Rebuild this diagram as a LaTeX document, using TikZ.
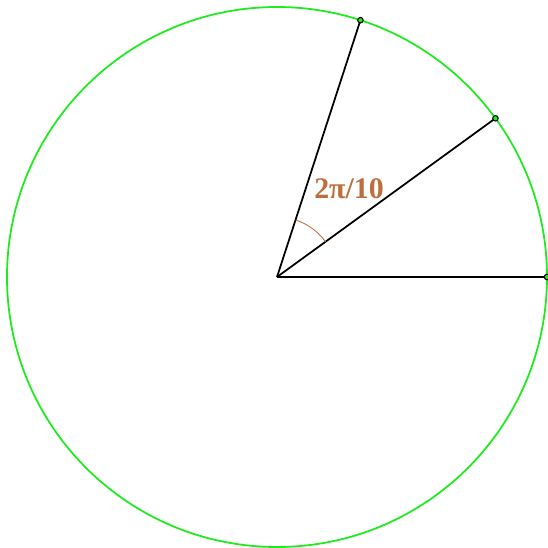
\documentclass[tikz,border=0pt]{standalone}
\usepackage{fontspec}
\usepackage{xcolor}
\usepackage{tikz}
\newfontfamily\labelfont{Liberation Serif}
\definecolor{anglebrown}{RGB}{190,110,60}
\definecolor{rimgreen}{RGB}{30,235,30}

\begin{document}
\begin{tikzpicture}[
            rim/.style={rimgreen, line width=0.5pt},
            spoke/.style={black, line width=0.5pt},
            tip/.style={circle, draw, fill=rimgreen, inner sep=0pt, minimum size=0.55mm, line width=0.3pt},
            anglearc/.style={anglebrown, line width=0.25pt}
        ]
            \useasboundingbox (-2.77,-2.71) rectangle (2.70,2.77);
            \coordinate (O) at (0,0);
            \draw[rim] (O) circle (2.70);
            % spokes to the rim
            \foreach \k in {0,1,2} {
                \draw[spoke] (O) -- ({36*\k}:2.70);
                \node[tip] (p\k) at ({36*\k}:2.70) {};
            }
            \draw[anglearc] (36:0.6) arc (36:72:0.6);
            \node[anglebrown, font=\labelfont\bfseries\fontsize{8.5}{10}\selectfont] (lab) at (0.72,0.88) {2π/10};
        \end{tikzpicture}
\end{document}
